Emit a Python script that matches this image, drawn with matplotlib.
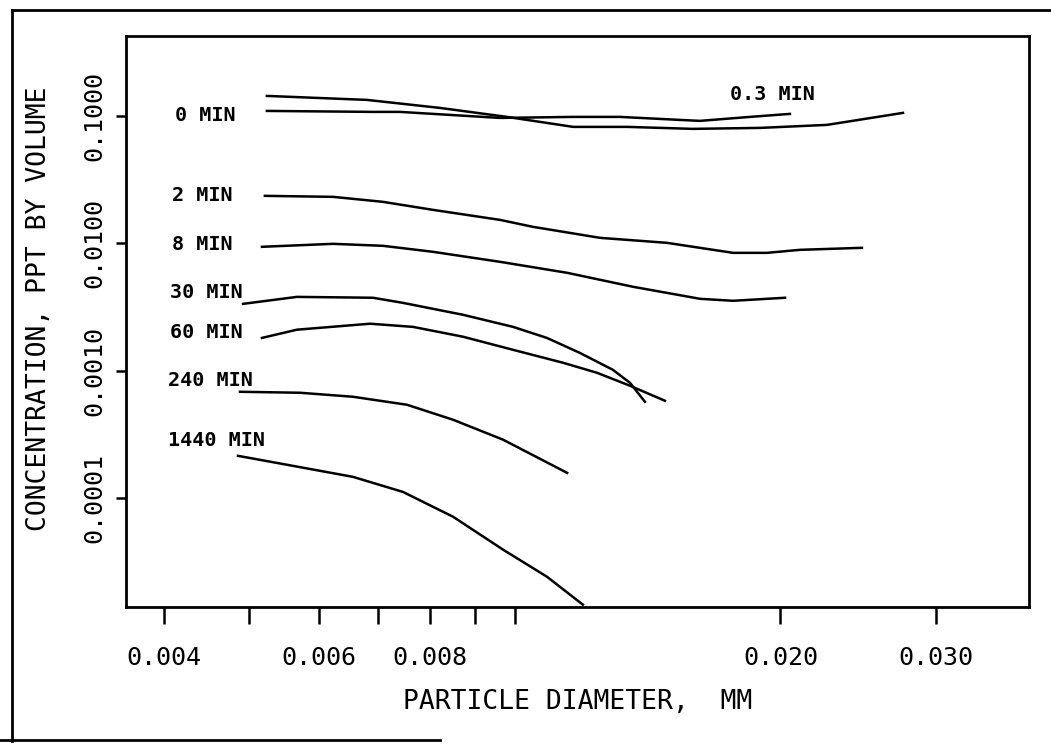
import numpy as np
import matplotlib
matplotlib.use('Agg')
import matplotlib.pyplot as plt
from matplotlib.lines import Line2D

# diametro de particula (mm) y concentracion (ppt por volumen)
d_0 = [0.005232, 0.006903, 0.007406, 0.009616, 0.01164, 0.01315, 0.01538, 0.01621, 0.01847, 0.02050]
c_0 = [0.1094, 0.1075, 0.1075, 0.0964, 0.0982, 0.0982, 0.0930, 0.0914, 0.0982, 0.1037]

d_03 = [0.005232, 0.006797, 0.008222, 0.009793, 0.01164, 0.01340, 0.01591, 0.01896, 0.02258, 0.02754]
c_03 = [0.1435, 0.1335, 0.1155, 0.0982, 0.0820, 0.0820, 0.0791, 0.0805, 0.0850, 0.1056]

d_2 = [0.005205, 0.006218, 0.007085, 0.008071, 0.009616, 0.01048, 0.01249, 0.01487, 0.01767, 0.01931, 0.02104, 0.02474]
c_2 = [0.02358, 0.02316, 0.02116, 0.01831, 0.01528, 0.01347, 0.01104, 0.01009, 0.00842, 0.00842, 0.00889, 0.00922]

d_8 = [0.005165, 0.006218, 0.007085, 0.008071, 0.009616, 0.01146, 0.01361, 0.01621, 0.01767, 0.02024]
c_8 = [0.00939, 0.00991, 0.00956, 0.00858, 0.00716, 0.00587, 0.00456, 0.00367, 0.00354, 0.00374]

d_30 = [0.004917, 0.005659, 0.006903, 0.007464, 0.008730, 0.00995, 0.01087, 0.01185, 0.01291, 0.01350, 0.01404]
c_30 = [0.00335, 0.00380, 0.00374, 0.00341, 0.00275, 0.00221, 0.00181, 0.00138, 0.001018, 0.000805, 0.000571]

d_60 = [0.005165, 0.005659, 0.006850, 0.007661, 0.008730, 0.00995, 0.01134, 0.01239, 0.01350, 0.01479]
c_60 = [0.00181, 0.00210, 0.00234, 0.00221, 0.00185, 0.00146, 0.001155, 0.000964, 0.000763, 0.000582]

d_240 = [0.004878, 0.005705, 0.006552, 0.007543, 0.008505, 0.009692, 0.01146]
c_240 = [0.000684, 0.000672, 0.000625, 0.000541, 0.000413, 0.000288, 0.000158]

d_1440 = [0.004852, 0.005513, 0.006552, 0.007464, 0.008505, 0.009692, 0.01087, 0.01194]
c_1440 = [0.000215, 0.000183, 0.000147, 0.000112, 7.16e-5, 3.95e-5, 2.42e-5, 1.46e-5]

curvas = [(d_0, c_0), (d_03, c_03), (d_2, c_2), (d_8, c_8), (d_30, c_30),
          (d_60, c_60), (d_240, c_240), (d_1440, c_1440)]

etiquetas = ['0 MIN', '0.3 MIN', '2 MIN', '8 MIN', '30 MIN', '60 MIN', '240 MIN', '1440 MIN']
etiqueta_x = [0.004117, 0.01753, 0.004085, 0.004085, 0.004064, 0.004064, 0.004043, 0.004043]
etiqueta_y = [0.1, 0.1461, 0.02358, 0.00973, 0.00409, 0.001986, 0.000835, 0.000282]

xticks = [0.004, 0.005, 0.006, 0.007, 0.008, 0.009, 0.010, 0.020, 0.030]
xtick_labels = ['0.004', '', '0.006', '', '0.008', '', '', '0.020', '0.030']
yticks = [0.0001, 0.001, 0.01, 0.1]
ytick_labels = ['0.0001', '0.0010', '0.0100', '0.1000']

mono = 'DejaVu Sans Mono'

fig = plt.figure(figsize=(10.51, 7.46), dpi=100)
ax = fig.add_axes([126/1051, 139/746, 903/1051, 571/746])

for d, c in curvas:
    ax.plot(d, c, color='black', lw=1.8)

for txt, x, y in zip(etiquetas, etiqueta_x, etiqueta_y):
    ax.text(x, y, txt, fontsize=14.5, fontweight='bold', family=mono, ha='left', va='center')

ax.set_xscale('log')
ax.set_yscale('log')
ax.set_xlim(0.003622, 0.03827)
ax.set_ylim(1.40e-5, 0.4236)

ax.minorticks_off()
ax.set_xticks(xticks)
ax.set_xticklabels(xtick_labels, fontsize=18, family=mono)
ax.set_yticks(yticks)
ax.set_yticklabels(ytick_labels, fontsize=18, family=mono, rotation=90, va='center')
ax.tick_params(axis='x', length=12, width=1.8, pad=16)
ax.tick_params(axis='y', length=7, width=1.8, pad=7)

for s in ax.spines.values():
    s.set_linewidth(2)

ax.set_xlabel('PARTICLE DIAMETER,  MM', fontsize=19, family=mono, labelpad=14)
ax.set_ylabel('CONCENTRATION, PPT BY VOLUME', fontsize=19, family=mono)
ax.yaxis.set_label_coords(-0.082, 0.522)

# marco de la pagina escaneada
fig.add_artist(Line2D([12/1051, 12/1051], [5/746, 736/746], color='black', lw=2))
fig.add_artist(Line2D([12/1051, 1.0], [736/746, 736/746], color='black', lw=2))
fig.add_artist(Line2D([0, 440/1051], [6/746, 6/746], color='black', lw=2))

fig.savefig('out.png', dpi=100)
